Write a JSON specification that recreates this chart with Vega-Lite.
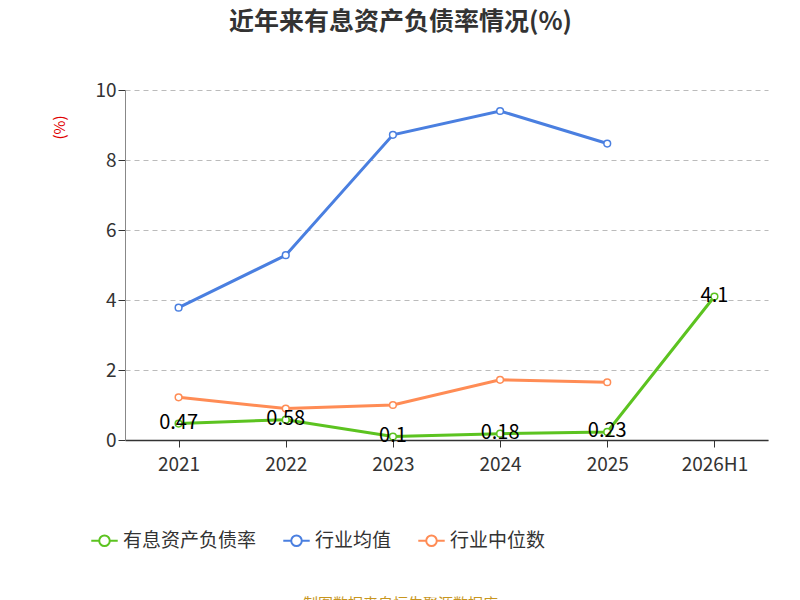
{
  "$schema": "https://vega.github.io/schema/vega-lite/v6.json",
  "width": 643,
  "height": 350,
  "autosize": "none",
  "padding": {"left": 125, "top": 90, "right": 32, "bottom": 160},
  "config": {"font": "Noto Sans CJK SC", "view": {"stroke": null}},
  "title": {"text": "近年来有息资产负债率情况(%)", "fontSize": 25, "fontWeight": "bold", "color": "#333333", "anchor": "middle", "dx": -46, "offset": 46},
  "data": {"values": [
    {"year": "2021", "series": "有息资产负债率", "v": 0.47},
    {"year": "2022", "series": "有息资产负债率", "v": 0.58},
    {"year": "2023", "series": "有息资产负债率", "v": 0.1},
    {"year": "2024", "series": "有息资产负债率", "v": 0.18},
    {"year": "2025", "series": "有息资产负债率", "v": 0.23},
    {"year": "2026H1", "series": "有息资产负债率", "v": 4.1},
    {"year": "2021", "series": "行业均值", "v": 3.78},
    {"year": "2022", "series": "行业均值", "v": 5.28},
    {"year": "2023", "series": "行业均值", "v": 8.72},
    {"year": "2024", "series": "行业均值", "v": 9.4},
    {"year": "2025", "series": "行业均值", "v": 8.47},
    {"year": "2021", "series": "行业中位数", "v": 1.22},
    {"year": "2022", "series": "行业中位数", "v": 0.9},
    {"year": "2023", "series": "行业中位数", "v": 1.0},
    {"year": "2024", "series": "行业中位数", "v": 1.72},
    {"year": "2025", "series": "行业中位数", "v": 1.65}
  ]},
  "encoding": {
    "x": {"field": "year", "type": "ordinal", "sort": null, "scale": {"paddingInner": 0, "paddingOuter": 0},
      "axis": {"labelAngle": 0, "labelFontSize": 19, "labelColor": "#333333", "labelPadding": 8, "bandPosition": 0, "tickSize": 7, "domainColor": "#333333", "tickColor": "#333333", "domainWidth": 1.5,
        "title": "制图数据来自恒生聚源数据库", "titleFontSize": 15, "titleFontWeight": "normal", "titleColor": "#c8961e", "titleX": 275, "titleY": 156, "titleAnchor": "middle"}},
    "y": {"field": "v", "type": "quantitative", "scale": {"domain": [0, 10]},
      "axis": {"tickCount": 5, "labelFontSize": 19, "labelColor": "#333333", "gridDash": [5, 4], "gridColor": "#bbbbbb", "domainColor": "#888888", "tickColor": "#333333", "tickSize": 7,
        "title": "(%)", "titleColor": "#e00000", "titleFontSize": 15, "titleFontWeight": "normal", "titleX": -58, "titleY": 37}},
    "color": {"field": "series", "type": "nominal", "sort": ["有息资产负债率", "行业均值", "行业中位数"],
      "scale": {"domain": ["有息资产负债率", "行业均值", "行业中位数"], "range": ["#5cc320", "#4a7fe0", "#ff8c55"]},
      "legend": {"title": null, "orient": "none", "direction": "horizontal", "legendX": -35, "legendY": 436, "labelFontSize": 19, "labelColor": "#333333", "columnPadding": 22,
        "symbolType": "M-1,0 L-0.4,0 M0.4,0 L1,0 M-0.4,0 A0.4,0.4 0 1,0 0.4,0 A0.4,0.4 0 1,0 -0.4,0", "symbolSize": 700, "symbolStrokeWidth": 2, "symbolFillColor": "white"}}
  },
  "layer": [
    {"mark": {"type": "line", "strokeWidth": 3, "point": {"filled": false, "fill": "white", "size": 45, "strokeWidth": 1.5}}},
    {"transform": [{"filter": "datum.series == '有息资产负债率'"}],
      "mark": {"type": "text", "fontSize": 20, "color": "black", "dy": -1},
      "encoding": {"text": {"field": "v", "type": "quantitative"}, "color": {"value": "black"}}}
  ]
}
